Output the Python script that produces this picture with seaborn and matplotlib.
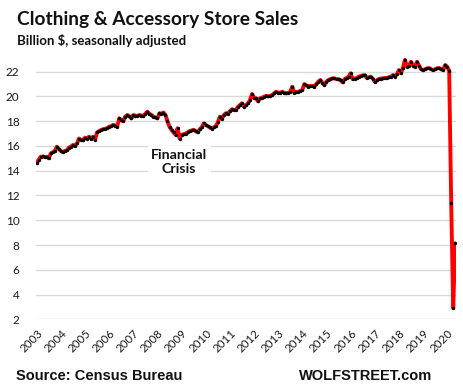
import numpy as np
import pandas as pd
import matplotlib
matplotlib.use("Agg")
import matplotlib.pyplot as plt
import seaborn as sns

years = [str(y) for y in range(2003, 2021)]

v2003 = [14.6, 14.9, 15.13, 15.15, 15.1, 15.13, 15.0, 15.4, 15.5, 15.6, 15.94, 15.75]
v2004 = [15.6, 15.5, 15.6, 15.65, 15.86, 15.95, 16.08, 16.0, 16.2, 16.6, 16.5, 16.45]
v2005 = [16.67, 16.6, 16.75, 16.6, 16.75, 16.5, 17.1, 17.2, 17.3, 17.35, 17.4, 17.43]
v2006 = [17.56, 17.6, 17.7, 17.65, 17.56, 18.23, 18.1, 18.0, 18.37, 18.5, 18.4, 18.23]
v2007 = [18.5, 18.45, 18.43, 18.5, 18.45, 18.43, 18.6, 18.77, 18.6, 18.5, 18.37, 18.3]
v2008 = [18.23, 18.64, 18.6, 18.7, 18.5, 18.0, 17.56, 17.3, 17.1, 16.9, 17.43, 16.6]
v2009 = [16.9, 16.95, 17.0, 17.1, 17.2, 17.25, 17.3, 17.2, 17.1, 17.35, 17.5, 17.83]
v2010 = [17.7, 17.6, 17.5, 17.4, 17.5, 17.6, 17.9, 18.37, 18.2, 18.5, 18.64, 18.6]
v2011 = [18.8, 18.96, 18.9, 18.9, 19.17, 19.3, 19.45, 19.17, 19.3, 19.45, 19.7, 20.2]
v2012 = [19.9, 19.85, 19.6, 19.85, 19.9, 19.98, 20.05, 20.0, 20.05, 20.1, 20.25, 20.38]
v2013 = [20.3, 20.3, 20.38, 20.3, 20.25, 20.3, 20.38, 20.79, 20.3, 20.35, 20.38, 20.45]
v2014 = [20.52, 21.0, 20.9, 20.8, 20.85, 20.85, 20.8, 21.0, 21.2, 21.33, 21.1, 20.93]
v2015 = [21.2, 21.33, 21.4, 21.46, 21.46, 21.4, 21.4, 21.3, 21.14, 21.4, 21.5, 21.6]
v2016 = [21.87, 21.4, 21.45, 21.46, 21.6, 21.65, 21.7, 21.73, 21.5, 21.55, 21.6, 21.45]
v2017 = [21.19, 21.3, 21.4, 21.45, 21.46, 21.5, 21.5, 21.55, 21.6, 21.73, 21.6, 21.8]
v2018 = [22.13, 21.87, 22.3, 22.95, 22.4, 22.5, 22.8, 22.5, 22.4, 22.8, 22.5, 22.2]
v2019 = [22.13, 22.2, 22.27, 22.3, 22.2, 22.13, 22.2, 22.27, 22.3, 22.2, 22.13, 22.54]
v2020 = [22.4, 22.08, 11.37, 2.9, 8.14]

sales = (v2003 + v2004 + v2005 + v2006 + v2007 + v2008 + v2009 + v2010 + v2011
         + v2012 + v2013 + v2014 + v2015 + v2016 + v2017 + v2018 + v2019 + v2020)
month_idx = list(range(len(sales)))
df = pd.DataFrame({"month": month_idx, "sales": sales})

yticks = [2, 4, 6, 8, 10, 12, 14, 16, 18, 20, 22]

sns.set_style("white")
plt.rcParams["font.family"] = ["Lato", "DejaVu Sans"]

fig = plt.figure(figsize=(4.64, 3.92), dpi=100)
ax = fig.add_axes([0.0776, 0.1855, 0.905, 0.6695])

sns.lineplot(data=df, x="month", y="sales", ax=ax, color="#ff0000", linewidth=2.8,
             marker="o", markersize=2.4, markerfacecolor="black",
             markeredgecolor="black", markeredgewidth=0, zorder=3)

ax.set_xlim(-0.35, 208.35)
ax.set_ylim(2, 23.2)
ax.set_yticks(yticks)
ax.set_yticklabels([str(t) for t in yticks])
ax.yaxis.grid(True, color="#d9d9d9", linewidth=1.0)
ax.xaxis.grid(False)
for s in ax.spines.values():
    s.set_visible(False)
ax.set_xlabel("")
ax.set_ylabel("")
ax.tick_params(axis="y", length=0, pad=12, labelsize=8.5, labelcolor="#1a1a1a")

ax.set_xticks([12 * k for k in range(len(years))])
ax.set_xticklabels(years, rotation=45, ha="right", rotation_mode="anchor")
ax.tick_params(axis="x", length=0, pad=6, labelsize=8.3, labelcolor="#1a1a1a")

ax.text(70.8, 14.7, "Financial\nCrisis", ha="center", va="center",
        fontsize=10.3, fontweight="bold", color="#111111", linespacing=1.2,
        bbox=dict(facecolor="white", edgecolor="none", pad=2.5), zorder=2)

fig.text(0.036, 0.935, "Clothing & Accessory Store Sales", fontsize=13.8,
         fontweight="bold", color="#111111", va="baseline")
fig.text(0.036, 0.885, "Billion $, seasonally adjusted", fontsize=9.5,
         fontweight="bold", color="#111111", va="baseline")
fig.text(0.034, 0.031, "Source: Census Bureau", fontsize=10.5, fontweight="bold",
         color="#111111", va="baseline", family=["Liberation Sans", "DejaVu Sans"])
fig.text(0.645, 0.031, "WOLFSTREET.com", fontsize=10.5, fontweight="bold",
         color="#111111", va="baseline", family=["Liberation Sans", "DejaVu Sans"])

fig.savefig("out.png", dpi=100)
